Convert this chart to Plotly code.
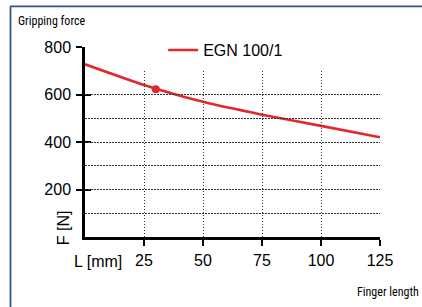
import plotly.graph_objects as go

# Data
finger_length = [0, 25, 50, 75, 100, 125]
gripping_force = [727, 640, 569, 515, 468, 420]
rated_length = [30]
rated_force = [622]
series_name = "EGN 100/1"
x_ticks = [25, 50, 75, 100, 125]
y_ticks = [200, 400, 600, 800]
grid_x = [25, 50, 75, 100, 125]
grid_y = [100, 200, 300, 400, 500, 600, 700]

RED = "#e0282e"
FONT = "Liberation Sans, Arial, sans-serif"
NARROW = "Liberation Sans Narrow, Roboto Condensed, Liberation Sans, sans-serif"
BORDER = "#34568a"
GRID = "#333333"

fig = go.Figure()

fig.add_trace(go.Scatter(
    x=finger_length, y=gripping_force, mode="lines", name=series_name,
    line=dict(color=RED, width=2.6, shape="spline", smoothing=0.6),
    showlegend=True,
))
fig.add_trace(go.Scatter(
    x=rated_length, y=rated_force, mode="markers",
    marker=dict(color=RED, size=8), showlegend=False, hoverinfo="skip",
))
fig.add_trace(go.Scatter(x=[None], y=[None], xaxis="x2", yaxis="y2",
                         showlegend=False, hoverinfo="skip"))
fig.add_trace(go.Scatter(x=[None], y=[None], yaxis="y3",
                         showlegend=False, hoverinfo="skip"))

fig.update_layout(
    width=422, height=307,
    margin=dict(l=85, r=42, t=47, b=70, autoexpand=False),
    paper_bgcolor="white", plot_bgcolor="rgba(0,0,0,0)",
    font=dict(family=FONT, size=16, color="black"),
    showlegend=True,
    legend=dict(
        x=0.265, y=0.984, xanchor="left", yanchor="middle",
        bgcolor="rgba(0,0,0,0)", font=dict(family=FONT, size=16),
        itemwidth=30,
    ),
    xaxis=dict(
        range=[0, 125], tickvals=x_ticks, ticks="outside", ticklen=6,
        tickwidth=2, tickcolor="black", showline=True, linecolor="black",
        linewidth=2.5, showgrid=False, zeroline=False,
        ticklabelstandoff=1, layer="above traces",
    ),
    yaxis=dict(
        range=[0, 800], tickvals=y_ticks, ticks="outside", ticklen=6,
        tickwidth=2, tickcolor="black", showline=True, linecolor="black",
        linewidth=2.5, showgrid=False, zeroline=False,
        ticklabelstandoff=2, layer="above traces",
    ),
    yaxis3=dict(
        range=[0, 800], tickvals=y_ticks, ticks="inside", ticklen=6,
        tickwidth=2, tickcolor="black", showticklabels=False,
        overlaying="y", showgrid=False, zeroline=False, showline=False,
    ),
    xaxis2=dict(
        range=[0, 125], tickvals=grid_x, showticklabels=False, ticks="",
        overlaying="x", anchor="y2", showgrid=True, gridcolor=GRID,
        griddash="1.5px,1.5px", gridwidth=1, zeroline=False, showline=False,
        layer="below traces",
    ),
    yaxis2=dict(
        range=[0, 700], tickvals=grid_y, showticklabels=False, ticks="",
        domain=[0, 0.875], anchor="x2", showgrid=True, gridcolor=GRID,
        griddash="1.5px,1.5px", gridwidth=1, zeroline=False, showline=False,
        layer="below traces",
    ),
)

px2x = lambda p: (p - 85) / 295
px2y = lambda p: (236.7 - p) / 189.7

fig.layout.annotations = [
    dict(text="Gripping force", xref="paper", yref="paper",
         x=px2x(16), y=px2y(21), xanchor="left", yanchor="middle",
         showarrow=False, font=dict(family=NARROW, size=12)),
    dict(text="Finger length", xref="paper", yref="paper",
         x=px2x(421), y=px2y(292), xanchor="right", yanchor="middle",
         showarrow=False, font=dict(family=NARROW, size=12)),
    dict(text="L [mm]", xref="paper", yref="paper",
         x=px2x(72), y=px2y(261), xanchor="left", yanchor="middle",
         showarrow=False, font=dict(family=FONT, size=16)),
    dict(text="F [N]", xref="paper", yref="paper", textangle=-90,
         x=px2x(63), y=px2y(228), xanchor="center", yanchor="middle",
         showarrow=False, font=dict(family=FONT, size=16)),
]

fig.add_shape(type="line", xref="paper", yref="paper",
              x0=px2x(10), x1=px2x(423), y0=px2y(6.5), y1=px2y(6.5),
              line=dict(color=BORDER, width=1.8))
fig.add_shape(type="line", xref="paper", yref="paper",
              x0=px2x(10.5), x1=px2x(10.5), y0=px2y(6.5), y1=px2y(308),
              line=dict(color=BORDER, width=1.8))

fig.write_html("out.html", config={"displayModeBar": False},
               post_script="document.body.style.margin='0';document.body.style.overflow='hidden';")
